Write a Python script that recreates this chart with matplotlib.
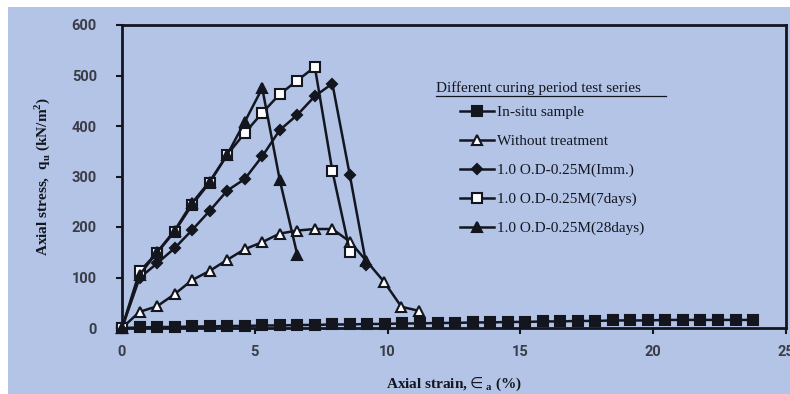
import matplotlib
matplotlib.use("Agg")
import matplotlib.pyplot as plt
from matplotlib.patches import Rectangle
import numpy as np

# strain (%) steps used by the tests
insitu_x = [0.66 * i for i in range(37)]
insitu_y = [0, 1, 2, 2, 3, 3, 4, 4, 5, 5, 6, 6, 7, 7, 8, 8, 9, 9, 10, 10,
            11, 11, 12, 12, 13, 13, 14, 14, 15, 15, 15, 16, 16, 16, 16, 16, 16]

untreated_x = [0, 0.66, 1.32, 1.98, 2.64, 3.3, 3.96, 4.62, 5.28, 5.94, 6.6,
               7.26, 7.92, 8.58, 9.2, 9.86, 10.52, 11.18]
untreated_y = [0, 32, 43, 67, 95, 113, 135, 156, 170, 187, 193, 196, 196,
               171, 133, 92, 42, 34]

imm_x = [0, 0.66, 1.32, 1.98, 2.64, 3.3, 3.96, 4.62, 5.28, 5.94, 6.6, 7.26,
         7.92, 8.58, 9.2]
imm_y = [0, 99, 128, 158, 194, 232, 272, 295, 340, 392, 422, 459, 484, 302, 125]

d7_x = [0, 0.66, 1.32, 1.98, 2.64, 3.3, 3.96, 4.62, 5.28, 5.94, 6.6, 7.26,
        7.92, 8.58]
d7_y = [0, 112, 149, 191, 244, 288, 343, 386, 426, 463, 490, 517, 311, 151]

d28_x = [0, 0.66, 1.32, 1.98, 2.64, 3.3, 3.96, 4.62, 5.28, 5.94, 6.6]
d28_y = [0, 105, 150, 193, 248, 290, 343, 408, 475, 293, 145]

labels = ["In-situ sample", "Without treatment", "1.0 O.D-0.25M(Imm.)",
          "1.0 O.D-0.25M(7days)", "1.0 O.D-0.25M(28days)"]

bg = "#b3c4e6"
ink = "#14161f"
serif = ["Liberation Serif", "DejaVu Serif"]

fig = plt.figure(figsize=(7.9, 3.94), dpi=100)
fig.patch.set_facecolor("white")
fig.patches.append(Rectangle((8 / 790, 0), 1, 1 - 7 / 394, transform=fig.transFigure,
                             facecolor=bg, edgecolor="none", zorder=-10))

ax = fig.add_axes([122 / 790, 1 - 328 / 394, (786 - 122) / 790, (328 - 25) / 394])
ax.set_facecolor(bg)

common = dict(color=ink, lw=1.8, markersize=7, markeredgewidth=1.5,
              markeredgecolor=ink, clip_on=False)
ax.plot(insitu_x, insitu_y, marker="s", markerfacecolor=ink, label=labels[0], **common)
ax.plot(untreated_x, untreated_y, marker="^", markerfacecolor="white", label=labels[1], **common)
ax.plot(imm_x, imm_y, marker="D", markersize=5.2, markerfacecolor=ink, color=ink, lw=1.8,
        markeredgewidth=1.5, markeredgecolor=ink, clip_on=False, label=labels[2])
ax.plot(d7_x, d7_y, marker="s", markerfacecolor="white", label=labels[3], **common)
ax.plot(d28_x, d28_y, marker="^", markerfacecolor=ink, label=labels[4], **common)

ax.set_xlim(0, 25)
ax.set_ylim(0, 600)
ax.set_xticks(np.arange(0, 26, 5))
ax.set_yticks(np.arange(0, 601, 100))
for s in ax.spines.values():
    s.set_color(ink)
    s.set_linewidth(2)
ax.tick_params(direction="out", length=4, width=1.5, color=ink,
               labelsize=10.5, labelcolor="#3a3d48")
ax.tick_params(axis="y", pad=14)
ax.tick_params(axis="x", pad=8)
for t in ax.get_xticklabels() + ax.get_yticklabels():
    t.set_family("Roboto")
    t.set_fontweight("bold")

ax.set_xlabel("Axial strain,$\\in_\\mathregular{a}$ (%)", family=serif,
              fontsize=11, fontweight="bold", color=ink, labelpad=12)
ax.set_ylabel("Axial stress,  q$_\\mathregular{u}$ (kN/m$^\\mathregular{2}$)", family=serif,
              fontsize=11, fontweight="bold", color=ink, labelpad=14)

leg = ax.legend(loc="upper left", bbox_to_anchor=(0.5, 0.755), frameon=False,
                prop={"family": serif, "size": 11}, handlelength=2.2,
                handletextpad=0.2, labelspacing=1.0, borderaxespad=0)
for t in leg.get_texts():
    t.set_color(ink)
fig.text(436 / 790, 1 - 88 / 394, "Different curing period test series",
         family=serif, fontsize=11, color=ink, va="center", ha="left")
fig.add_artist(plt.Line2D([436 / 790, 666 / 790], [1 - 96 / 394, 1 - 96 / 394],
                          color=ink, lw=0.9, transform=fig.transFigure))

fig.savefig("out.png", dpi=100, facecolor=fig.get_facecolor())
